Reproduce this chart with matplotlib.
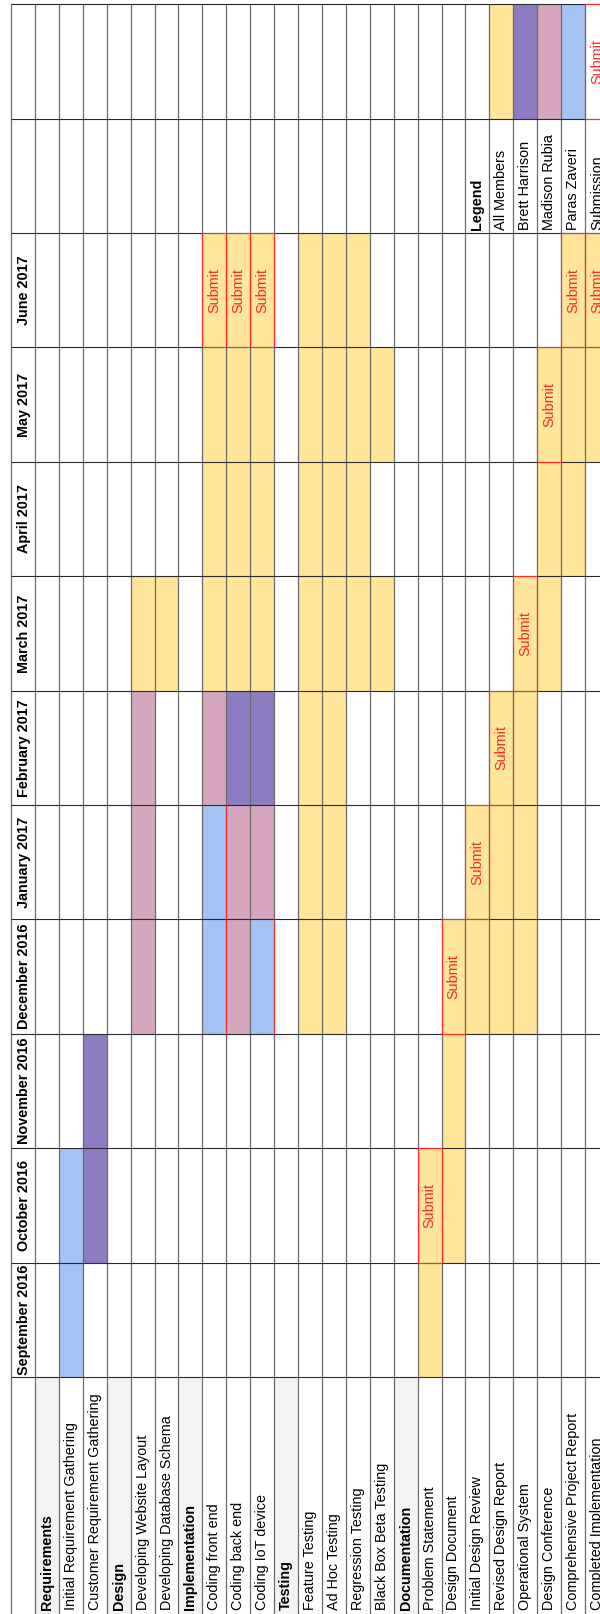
import matplotlib
matplotlib.use("Agg")
import matplotlib.pyplot as plt
from matplotlib.patches import Rectangle

# ---------------- data ----------------
months = ["September 2016", "October 2016", "November 2016", "December 2016",
          "January 2017", "February 2017", "March 2017", "April 2017",
          "May 2017", "June 2017"]

tasks = ["Requirements", "Initial Requirement Gathering", "Customer Requirement Gathering",
         "Design", "Developing Website Layout", "Developing Database Schema",
         "Implementation", "Coding front end", "Coding back end", "Coding IoT device",
         "Testing", "Feature Testing", "Ad Hoc Testing", "Regression Testing",
         "Black Box Beta Testing", "Documentation", "Problem Statement", "Design Document",
         "Initial Design Review", "Revised Design Report", "Operational System",
         "Design Conference", "Comprehensive Project Report", "Completed Implementation"]

sections = ["Requirements", "Design", "Implementation", "Testing", "Documentation"]

# codes per month (Sep .. Jun): '' none, Y all members, P Brett, K Madison, B Paras, S submit
schedule = {
    "Initial Requirement Gathering":   ["B", "B", "", "", "", "", "", "", "", ""],
    "Customer Requirement Gathering":  ["", "P", "P", "", "", "", "", "", "", ""],
    "Developing Website Layout":       ["", "", "", "K", "K", "K", "Y", "", "", ""],
    "Developing Database Schema":      ["", "", "", "", "", "", "Y", "", "", ""],
    "Coding front end":                ["", "", "", "B", "B", "K", "Y", "Y", "Y", "S"],
    "Coding back end":                 ["", "", "", "K", "K", "P", "Y", "Y", "Y", "S"],
    "Coding IoT device":               ["", "", "", "B", "K", "P", "Y", "Y", "Y", "S"],
    "Feature Testing":                 ["", "", "", "Y", "Y", "Y", "Y", "Y", "Y", "Y"],
    "Ad Hoc Testing":                  ["", "", "", "Y", "Y", "Y", "Y", "Y", "Y", "Y"],
    "Regression Testing":              ["", "", "", "", "", "", "Y", "Y", "Y", "Y"],
    "Black Box Beta Testing":          ["", "", "", "", "", "", "Y", "", "Y", ""],
    "Problem Statement":               ["Y", "S", "", "", "", "", "", "", "", ""],
    "Design Document":                 ["", "Y", "Y", "S", "", "", "", "", "", ""],
    "Initial Design Review":           ["", "", "", "Y", "S", "", "", "", "", ""],
    "Revised Design Report":           ["", "", "", "Y", "Y", "S", "", "", "", ""],
    "Operational System":              ["", "", "", "Y", "Y", "Y", "S", "", "", ""],
    "Design Conference":               ["", "", "", "", "", "", "Y", "Y", "S", ""],
    "Comprehensive Project Report":    ["", "", "", "", "", "", "", "Y", "Y", "S"],
    "Completed Implementation":        ["", "", "", "", "", "", "", "", "Y", "S"],
}

legend_title = "Legend"
legend_labels = ["All Members", "Brett Harrison", "Madison Rubia", "Paras Zaveri", "Submission"]
legend_codes = ["Y", "P", "K", "B", "S"]
submit_text = "Submit"

# thin red cell edges left over in the sheet: (task whose right edge is red, months)
red_edges = [("Initial Requirement Gathering", [0, 1]),
             ("Coding front end", [3, 4]),
             ("Coding IoT device", [3])]

# ---------------- style ----------------
colors = {"Y": "#ffe599", "P": "#8e7cc3", "K": "#d5a6bd", "B": "#a4c2f4", "S": "#ffe599"}
RED = "#ff2a2a"
FONT = ["Liberation Sans", "DejaVu Sans"]
FS = 10.4

W, H = 600, 1614
X_HEAD0, X_TASK0 = 11.0, 35.0
CW = 550.0 / 23.0          # width of a task column
Y_TOP = 4.2
MH = 114.4                 # height of a month band
N_BANDS = len(months) + 2  # + legend text + swatch bands
Y_LABEL = Y_TOP + N_BANDS * MH

fig = plt.figure(figsize=(W / 100, H / 100), dpi=100)
ax = fig.add_axes([0, 0, 1, 1])
ax.set_xlim(0, W)
ax.set_ylim(H, 0)
ax.axis("off")


def band(j):
    """band j: 0 = September ... 9 = June, 10 = legend text, 11 = swatch"""
    y1 = Y_LABEL - j * MH
    return y1 - MH, y1


def col(i):
    x0 = X_TASK0 + i * CW
    return x0, x0 + CW


# section label shading
for i, t in enumerate(tasks):
    if t in sections:
        x0, x1 = col(i)
        ax.add_patch(Rectangle((x0, Y_LABEL), CW, H - Y_LABEL + 5, facecolor="#f3f3f3",
                               edgecolor="none", zorder=1))

# schedule cells
submit_cells = []
for i, t in enumerate(tasks):
    codes = schedule.get(t)
    if not codes:
        continue
    x0, x1 = col(i)
    for j, c in enumerate(codes):
        if not c:
            continue
        y0, y1 = band(j)
        ax.add_patch(Rectangle((x0, y0), CW, MH, facecolor=colors[c], edgecolor="none", zorder=1))
        if c == "S":
            submit_cells.append((x0, y0, "#ffe599"))

# legend
li = tasks.index("Initial Design Review")
x0, x1 = col(li)
ty0, ty1 = band(len(months))
ax.text((x0 + x1) / 2, ty1 - 3, legend_title, rotation=90, ha="center", va="bottom",
        fontsize=FS, fontweight="bold", family=FONT, zorder=5)
for k, (lab, c) in enumerate(zip(legend_labels, legend_codes)):
    x0, x1 = col(li + 1 + k)
    ax.text((x0 + x1) / 2, ty1 - 3, lab, rotation=90, ha="center", va="bottom",
            fontsize=FS, family=FONT, zorder=5)
    sy0, sy1 = band(len(months) + 1)
    if c == "S":
        submit_cells.append((x0, sy0, "white"))
    else:
        ax.add_patch(Rectangle((x0, sy0), CW, MH, facecolor=colors[c], edgecolor="none", zorder=1))

# grid lines
x_lines = [X_HEAD0, X_TASK0] + [X_TASK0 + i * CW for i in range(1, len(tasks) + 1)]
for x in x_lines:
    ax.plot([x, x], [Y_TOP, H + 5], color="#6a6a6a", lw=0.9, zorder=2, solid_capstyle="butt")
for j in range(N_BANDS + 1):
    y = Y_TOP + j * MH
    ax.plot([X_HEAD0, W + 5], [y, y], color="#2a2a2a", lw=0.8, zorder=2, solid_capstyle="butt")

# red leftover edges
for t, ms in red_edges:
    x = col(tasks.index(t))[1]
    for j in ms:
        y0, y1 = band(j)
        ax.plot([x, x], [y0, y1], color=RED, lw=0.7, zorder=3, solid_capstyle="butt")

# submit cells (red border + text)
for (x0, y0, fc) in submit_cells:
    ax.add_patch(Rectangle((x0, y0), CW, MH, facecolor="none", edgecolor=RED, lw=0.8, zorder=3))
    ax.text(x0 + CW / 2, y0 + MH / 2, submit_text, rotation=90, ha="center", va="center",
            fontsize=FS, color=RED, family=FONT, zorder=5)

# month headers
xc = (X_HEAD0 + X_TASK0) / 2
for j, m in enumerate(months):
    y0, y1 = band(j)
    ax.text(xc + 1, (y0 + y1) / 2, m, rotation=90, ha="center", va="center",
            fontsize=FS, fontweight="bold", family=FONT, zorder=5)

# task labels
for i, t in enumerate(tasks):
    x0, x1 = col(i)
    ax.text((x0 + x1) / 2, H - 4, t, rotation=90, ha="center", va="bottom",
            fontsize=FS, fontweight="bold" if t in sections else "normal",
            family=FONT, zorder=5)

fig.savefig("out.png", dpi=100)
